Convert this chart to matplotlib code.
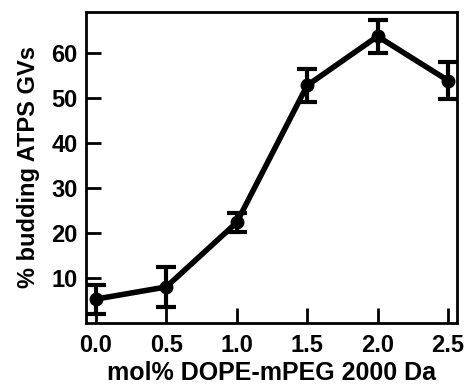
import matplotlib
matplotlib.use("Agg")
import matplotlib.pyplot as plt

plt.rcParams['font.family'] = ['Liberation Sans', 'DejaVu Sans']
plt.rcParams['font.weight'] = 'bold'

x = [0.0, 0.5, 1.0, 1.5, 2.0, 2.5]
y = [5.3, 8.0, 22.3, 52.7, 63.6, 53.8]
err = [3.2, 4.4, 2.0, 3.7, 3.6, 4.0]
xticks = [0.0, 0.5, 1.0, 1.5, 2.0, 2.5]
yticks = [10, 20, 30, 40, 50, 60]

fig = plt.figure(figsize=(4.65, 3.85), dpi=100)
ax = fig.add_axes([86/465, 1 - 323/385, (457-86)/465, (323-12)/385])
ax.errorbar(x, y, yerr=err, color='black', lw=4.0, marker='o', ms=9,
            capsize=7, capthick=3, elinewidth=3)
ax.set_xlim(-0.07, 2.564)
ax.set_ylim(0, 69)
ax.set_xticks(xticks)
ax.set_xticklabels([f"{v:.1f}" for v in xticks])
ax.set_yticks(yticks)
for s in ax.spines.values():
    s.set_linewidth(2.0)
ax.tick_params(direction='in', length=10.5, width=2.0, labelsize=17)
ax.tick_params(axis='x', pad=8)
ax.tick_params(axis='y', pad=6)
for lab in ax.get_xticklabels() + ax.get_yticklabels():
    lab.set_fontweight('bold')
ax.set_xlabel('mol% DOPE-mPEG 2000 Da', fontsize=18, fontweight='bold', labelpad=3)
ax.set_ylabel('% budding ATPS GVs', fontsize=17, fontweight='bold', labelpad=8)
fig.savefig('out.png', dpi=100)
